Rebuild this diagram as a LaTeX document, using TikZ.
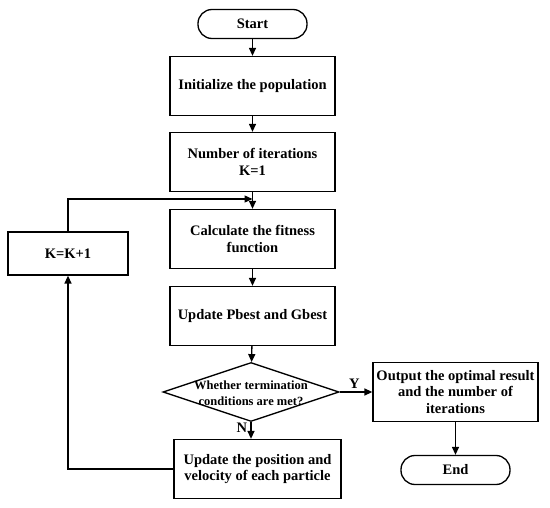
\documentclass[tikz,border=0pt]{standalone}
\usepackage{fontspec}
\setmainfont{Liberation Serif}
\usetikzlibrary{shapes.geometric,arrows.meta}
\begin{document}
\begin{tikzpicture}[x=1pt,y=-1pt,
  line width=1.3pt,
  every node/.style={font=\bfseries\fontsize{14.5}{16.5}\selectfont, align=center},
  procbox/.style={draw, minimum width=165pt, minimum height=59pt, inner sep=2pt},
  termbox/.style={draw, rounded corners=14pt, minimum width=109pt, minimum height=29pt},
  arr/.style={-{Triangle[length=8pt,width=7pt]}}
]
\useasboundingbox (0,0) rectangle (550,508);
\node[termbox] (start) at (252.5,24) {Start};
\node[procbox] (init) at (252.5,86) {Initialize the population};
\node[procbox] (num) at (252.5,162) {Number of iterations\\K=1};
\node[procbox] (calc) at (252.5,239) {Calculate the fitness\\function};
\node[procbox] (upd) at (252.5,316) {Update Pbest and Gbest};
\node[draw, diamond, minimum width=176pt, minimum height=59pt, inner sep=0pt, shape aspect=3] (dec) at (251,392) {};
\node[font=\bfseries\fontsize{12.5}{16}\selectfont] (dectxt) at (251,393) {Whether termination\\conditions are met?};
\node[procbox, minimum width=167pt] (pos) at (257.5,469) {Update the position and\\velocity of each particle};
\node[procbox] (out) at (455.5,392) {Output the optimal result\\and the number of\\iterations};
\node[termbox] (end) at (455.5,470) {End};
\node[draw, minimum width=120pt, minimum height=43pt] (kk) at (68,253.5) {K=K+1};
\coordinate (join) at (252.5,199);
\draw[arr] (start) -- (init);
\draw[arr] (init) -- (num);
\draw[arr] (num) -- (calc);
\draw[arr] (calc) -- (upd);
\draw[arr] (upd) -- (dec);
\draw[arr] (dec.east) -- node[above, pos=0.45] (ylab) {Y} (out.west);
\draw[arr] (dec.south) -- node[left, pos=0.35] (nlab) {N} (dec.south |- pos.north);
\draw[arr] (out) -- (end);
\draw[arr] (pos.west) -| (kk.south);
\draw[arr] (kk.north) |- (join);
\end{tikzpicture}
\end{document}
